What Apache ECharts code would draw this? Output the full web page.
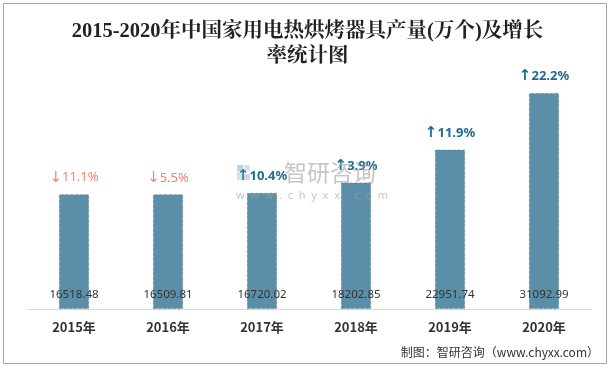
<!DOCTYPE html>
<html>
<head>
<meta charset="utf-8">
<script src="https://cdn.jsdelivr.net/npm/echarts@6/dist/echarts.min.js"></script>
<style>html,body{margin:0;padding:0;background:#fff}#c{width:615px;height:368px}</style>
</head>
<body>
<div id="c"></div>
<script>
const categories = ['2015年', '2016年', '2017年', '2018年', '2019年', '2020年'];
const output = [16518.48, 16509.81, 16720.02, 18202.85, 22951.74, 31092.99];
const growth = [-11.1, -5.5, 10.4, 3.9, 11.9, 22.2];

const chart = echarts.init(document.getElementById('c'), null, {renderer: 'canvas'});
chart.setOption({
  animation: false,
  backgroundColor: '#fff',
  title: {
    text: '2015-2020年中国家用电热烘烤器具产量(万个)及增长\n率统计图',
    left: 'center',
    top: 14,
    textStyle: {
      fontFamily: '"Liberation Serif", "Noto Serif CJK SC", "Noto Sans CJK SC", serif',
      fontSize: 20.5,
      fontWeight: 'bold',
      color: '#222',
      lineHeight: 25
    }
  },
  grid: {left: 27, right: 24, top: 59, bottom: 59},
  xAxis: {
    type: 'category',
    data: categories,
    axisLine: {lineStyle: {color: '#d9d9d9', width: 1}},
    axisTick: {show: false},
    axisLabel: {
      margin: 12,
      fontSize: 13,
      fontWeight: 'bold',
      color: '#333',
      fontFamily: '"Noto Sans CJK SC", "Noto Sans", sans-serif'
    }
  },
  yAxis: {
    type: 'value',
    min: 0,
    max: 36000,
    show: false,
    splitLine: {show: false}
  },
  series: [
    {
      type: 'bar',
      data: output,
      barWidth: 30,
      itemStyle: {color: '#5b8fa7', borderColor: 'rgba(70,110,135,0.6)', borderWidth: 0.8, borderType: 'dashed'},
      label: {
        show: true,
        position: 'insideBottom',
        distance: 8,
        fontSize: 11.5,
        color: '#333',
        fontFamily: '"Noto Sans", sans-serif',
        formatter: p => p.value.toFixed(2)
      },
      silent: true
    },
    {
      type: 'bar',
      data: output,
      barWidth: 30,
      barGap: '-100%',
      itemStyle: {color: 'rgba(0,0,0,0)'},
      label: {
        show: true,
        position: 'top',
        distance: 9,
        fontFamily: '"Noto Sans", "DejaVu Sans", sans-serif',
        formatter: p => {
          const g = growth[p.dataIndex];
          return g < 0 ? '{dna|↓}{dn|' + Math.abs(g).toFixed(1) + '%}' : '{upa|↑}{up|' + g.toFixed(1) + '%}';
        },
        rich: {
          dna: {color: '#f2866b', fontSize: 15, fontFamily: '"DejaVu Sans", sans-serif'},
          dn: {color: '#f2866b', fontSize: 13, fontFamily: '"Noto Sans", "DejaVu Sans", sans-serif'},
          upa: {color: '#1c6c93', fontSize: 15, fontWeight: 'bold', fontFamily: '"DejaVu Sans", sans-serif'},
          up: {color: '#1c6c93', fontSize: 13, fontWeight: 'bold', fontFamily: '"Noto Sans", "DejaVu Sans", sans-serif'}
        }
      },
      silent: true,
      z: 3
    }
  ],
  graphic: [
    {type: 'rect', shape: {x: 3.5, y: 3.5, width: 603, height: 360}, style: {fill: 'none', stroke: '#a6a6a6', lineWidth: 1}, silent: true, z: 0},
    {type: 'rect', shape: {x: 237, y: 165, width: 6, height: 6}, style: {fill: 'rgba(150,170,205,0.55)'}, z: 10},
    {type: 'rect', shape: {x: 244, y: 165, width: 6, height: 6}, style: {fill: 'rgba(150,170,205,0.35)'}, z: 10},
    {type: 'rect', shape: {x: 237, y: 172, width: 6, height: 8}, style: {fill: 'rgba(130,200,235,0.45)'}, z: 10},
    {type: 'rect', shape: {x: 244, y: 174, width: 6, height: 6}, style: {fill: 'rgba(150,170,205,0.45)'}, z: 10},
    {type: 'text', x: 284, y: 161, style: {text: '智研咨询', fontSize: 23, fill: 'rgba(160,160,160,0.6)', fontFamily: '"Noto Sans CJK SC", sans-serif'}, z: 10},
    {type: 'text', x: 236, y: 190, style: {text: 'w  w  w  .  c  h  y  x  x  .  c  o  m', fontSize: 11, fill: 'rgba(160,160,160,0.6)', fontFamily: '"Noto Sans", sans-serif'}, z: 10},
    {type: 'text', right: 16, top: 346, style: {text: '制图：智研咨询（www.chyxx.com）', fontSize: 12, fill: '#333', fontFamily: '"Noto Sans CJK SC", sans-serif'}, z: 10}
  ]
});
</script>
</body>
</html>
